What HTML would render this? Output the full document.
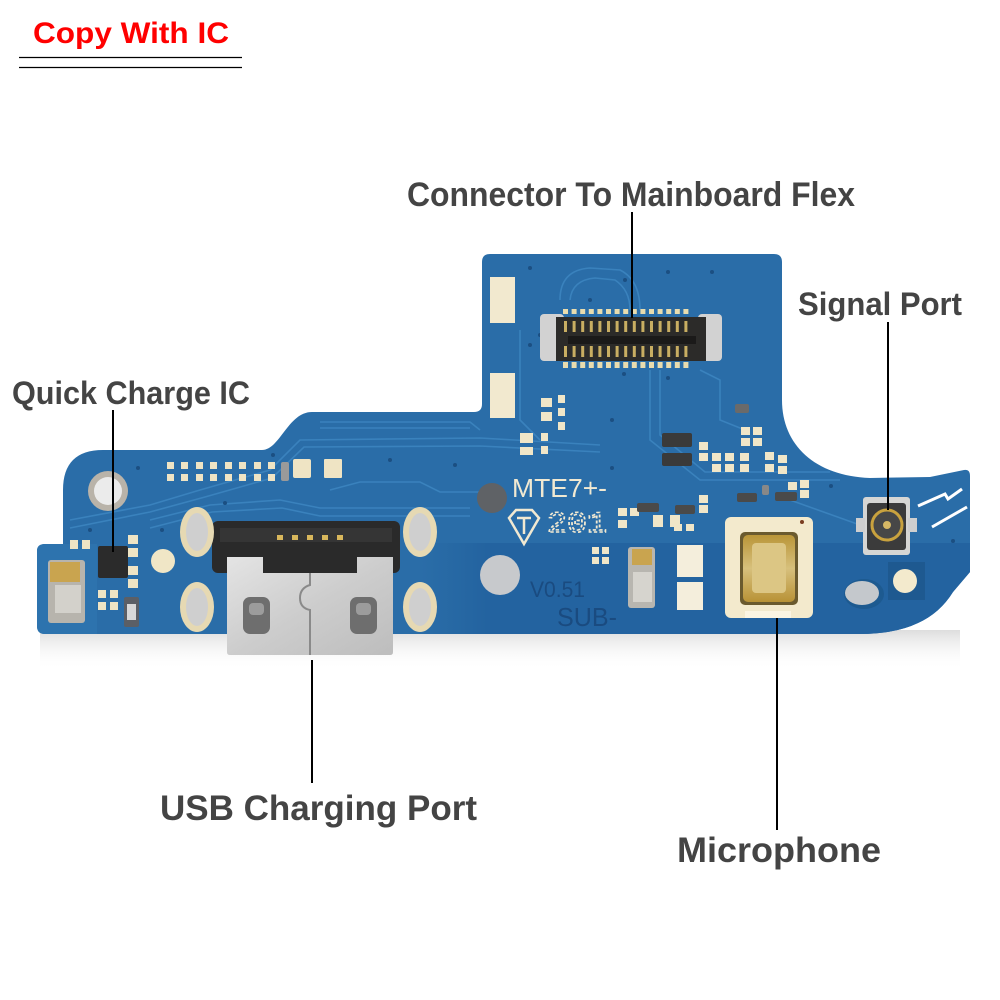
<!DOCTYPE html>
<html>
<head>
<meta charset="utf-8">
<style>
html,body{margin:0;padding:0;background:#fff;}
svg{display:block;}
.lbl{font-family:"Liberation Sans",Arial,sans-serif;font-weight:bold;fill:#444;}
</style>
</head>
<body>
<svg width="1000" height="1000" viewBox="0 0 1000 1000" xmlns="http://www.w3.org/2000/svg">
<defs>
  <linearGradient id="shadow" x1="0" y1="0" x2="0" y2="1">
    <stop offset="0" stop-color="#d9d9d9" stop-opacity="0.9"/>
    <stop offset="1" stop-color="#ffffff" stop-opacity="0"/>
  </linearGradient>
  <linearGradient id="band" x1="0" y1="0" x2="1" y2="0">
    <stop offset="0" stop-color="#2465a0" stop-opacity="0"/>
    <stop offset="0.12" stop-color="#2363a0" stop-opacity="1"/>
    <stop offset="1" stop-color="#2363a0" stop-opacity="1"/>
  </linearGradient>
  <linearGradient id="silver" x1="0" y1="0" x2="1" y2="1">
    <stop offset="0" stop-color="#e4e4e4"/>
    <stop offset="0.5" stop-color="#cdcdcd"/>
    <stop offset="1" stop-color="#bdbdbd"/>
  </linearGradient>
  <linearGradient id="gold" x1="0" y1="0" x2="0" y2="1">
    <stop offset="0" stop-color="#b99538"/>
    <stop offset="0.5" stop-color="#d7c07c"/>
    <stop offset="1" stop-color="#b89236"/>
  </linearGradient>
  <clipPath id="boardclip">
    <path d="M 490,254 L 774,254 Q 782,254 782,262 L 782,400 C 782,445 815,476 870,478 L 930,477 L 964,470 Q 970,469 970,476 L 970,572 L 953,592 Q 940,613 918,623 Q 895,634 860,634 L 45,634 Q 37,634 37,626 L 37,551 Q 37,544 45,544 L 63,544 L 63,490 Q 63,450 103,450 L 262,450 C 280,450 288,412 312,412 L 474,412 Q 482,412 482,404 L 482,262 Q 482,254 490,254 Z"/>
  </clipPath>
</defs>

<!-- Header -->
<text x="33" y="43" font-family="Liberation Sans, Arial, sans-serif" font-weight="bold" font-size="30" fill="#ff0000" textLength="196" lengthAdjust="spacingAndGlyphs">Copy With IC</text>
<line x1="19" y1="57.5" x2="242" y2="57.5" stroke="#000" stroke-width="1.3"/>
<line x1="19" y1="67.5" x2="242" y2="67.5" stroke="#000" stroke-width="1.3"/>

<!-- shadow under board -->
<rect x="40" y="630" width="920" height="40" fill="url(#shadow)"/>

<!-- Board -->
<path d="M 490,254 L 774,254 Q 782,254 782,262 L 782,400 C 782,445 815,476 870,478 L 930,477 L 964,470 Q 970,469 970,476 L 970,572 L 953,592 Q 940,613 918,623 Q 895,634 860,634 L 45,634 Q 37,634 37,626 L 37,551 Q 37,544 45,544 L 63,544 L 63,490 Q 63,450 103,450 L 262,450 C 280,450 288,412 312,412 L 474,412 Q 482,412 482,404 L 482,262 Q 482,254 490,254 Z" fill="#2a6da8"/>

<g clip-path="url(#boardclip)">
  <!-- darker lower band -->
  <rect x="420" y="543" width="555" height="100" fill="url(#band)"/>
  <rect x="37" y="544" width="60" height="95" fill="#2d73ae"/>
  <!-- traces -->
  <g fill="none" stroke="#3a82bd" stroke-width="1.6">
    <path d="M 70,520 L 150,505 L 200,490 L 270,470 L 300,440 L 480,438 L 600,445"/>
    <path d="M 70,528 L 150,512 L 205,497 L 272,478 L 304,447 L 480,446 L 600,452"/>
    <path d="M 150,520 L 210,505 L 280,500 L 320,508 L 470,508"/>
    <path d="M 150,528 L 212,512 L 282,508 L 320,516 L 470,516"/>
    <path d="M 320,422 L 470,422 L 480,430"/>
    <path d="M 320,428 L 470,428"/>
    <path d="M 330,490 L 360,482 L 420,482 L 440,492 L 480,492"/>
    <path d="M 560,300 Q 560,270 590,268 L 620,270 Q 640,280 640,310"/>
    <path d="M 570,300 Q 572,280 595,278 L 615,280 Q 630,290 630,310"/>
    <path d="M 650,370 L 650,440 L 700,480 L 840,480"/>
    <path d="M 660,370 L 660,435 L 705,472 L 830,472"/>
    <path d="M 700,370 L 720,380 L 720,420 L 745,430"/>
    <path d="M 520,330 L 520,420 L 540,440"/>
    <path d="M 790,500 L 860,525"/>
  </g>
  <!-- vias -->
  <g fill="#1b4f82">
    <circle cx="530" cy="268" r="2"/><circle cx="668" cy="272" r="2"/><circle cx="712" cy="272" r="2"/>
    <circle cx="590" cy="300" r="2"/><circle cx="625" cy="280" r="2"/><circle cx="530" cy="345" r="2"/>
    <circle cx="540" cy="335" r="2"/><circle cx="624" cy="374" r="2"/><circle cx="668" cy="378" r="2"/>
    <circle cx="138" cy="468" r="2"/><circle cx="308" cy="470" r="2"/><circle cx="273" cy="455" r="2"/>
    <circle cx="390" cy="460" r="2"/><circle cx="455" cy="465" r="2"/><circle cx="225" cy="503" r="2"/>
    <circle cx="162" cy="530" r="2"/><circle cx="90" cy="530" r="2"/><circle cx="612" cy="468" r="2"/>
    <circle cx="831" cy="486" r="2"/><circle cx="953" cy="541" r="2"/><circle cx="612" cy="420" r="2"/>
  </g>
</g>

<!-- Holes -->
<circle cx="108" cy="491" r="20" fill="#b9b3a9"/>
<circle cx="108" cy="491" r="14" fill="#ebebeb"/>
<circle cx="492" cy="498" r="15" fill="#5f6266"/>
<circle cx="500" cy="575" r="20" fill="#c7c9cc"/>
<ellipse cx="864" cy="594" rx="20" ry="15" fill="#1d5a90"/>
<ellipse cx="862" cy="593" rx="17" ry="12" fill="#c4c8cc"/>

<!-- Tab pads -->
<rect x="490" y="277" width="25" height="46" fill="#f2e9cf"/>
<rect x="490" y="373" width="25" height="45" fill="#f2e9cf"/>

<!-- Mainboard flex connector -->
<rect x="540" y="314" width="24" height="47" rx="4" fill="#d2d2d2"/>
<rect x="698" y="314" width="24" height="47" rx="4" fill="#d2d2d2"/>
<rect x="556" y="317" width="150" height="44" fill="#2c2b29"/>
<rect x="568" y="336" width="128" height="8" fill="#1b1a19"/>
<g fill="#e9dcae">
  <rect x="563" y="309" width="5" height="5"/><rect x="571.6" y="309" width="5" height="5"/><rect x="580.2" y="309" width="5" height="5"/><rect x="588.8" y="309" width="5" height="5"/><rect x="597.4" y="309" width="5" height="5"/><rect x="606" y="309" width="5" height="5"/><rect x="614.6" y="309" width="5" height="5"/><rect x="623.2" y="309" width="5" height="5"/><rect x="631.8" y="309" width="5" height="5"/><rect x="640.4" y="309" width="5" height="5"/><rect x="649" y="309" width="5" height="5"/><rect x="657.6" y="309" width="5" height="5"/><rect x="666.2" y="309" width="5" height="5"/><rect x="674.8" y="309" width="5" height="5"/><rect x="683.4" y="309" width="5" height="5"/>
  <rect x="563" y="362" width="5" height="6"/><rect x="571.6" y="362" width="5" height="6"/><rect x="580.2" y="362" width="5" height="6"/><rect x="588.8" y="362" width="5" height="6"/><rect x="597.4" y="362" width="5" height="6"/><rect x="606" y="362" width="5" height="6"/><rect x="614.6" y="362" width="5" height="6"/><rect x="623.2" y="362" width="5" height="6"/><rect x="631.8" y="362" width="5" height="6"/><rect x="640.4" y="362" width="5" height="6"/><rect x="649" y="362" width="5" height="6"/><rect x="657.6" y="362" width="5" height="6"/><rect x="666.2" y="362" width="5" height="6"/><rect x="674.8" y="362" width="5" height="6"/><rect x="683.4" y="362" width="5" height="6"/>
</g>
<g fill="#c9ae62">
  <rect x="564" y="321" width="3" height="11"/><rect x="572.6" y="321" width="3" height="11"/><rect x="581.2" y="321" width="3" height="11"/><rect x="589.8" y="321" width="3" height="11"/><rect x="598.4" y="321" width="3" height="11"/><rect x="607" y="321" width="3" height="11"/><rect x="615.6" y="321" width="3" height="11"/><rect x="624.2" y="321" width="3" height="11"/><rect x="632.8" y="321" width="3" height="11"/><rect x="641.4" y="321" width="3" height="11"/><rect x="650" y="321" width="3" height="11"/><rect x="658.6" y="321" width="3" height="11"/><rect x="667.2" y="321" width="3" height="11"/><rect x="675.8" y="321" width="3" height="11"/><rect x="684.4" y="321" width="3" height="11"/>
  <rect x="564" y="346" width="3" height="11"/><rect x="572.6" y="346" width="3" height="11"/><rect x="581.2" y="346" width="3" height="11"/><rect x="589.8" y="346" width="3" height="11"/><rect x="598.4" y="346" width="3" height="11"/><rect x="607" y="346" width="3" height="11"/><rect x="615.6" y="346" width="3" height="11"/><rect x="624.2" y="346" width="3" height="11"/><rect x="632.8" y="346" width="3" height="11"/><rect x="641.4" y="346" width="3" height="11"/><rect x="650" y="346" width="3" height="11"/><rect x="658.6" y="346" width="3" height="11"/><rect x="667.2" y="346" width="3" height="11"/><rect x="675.8" y="346" width="3" height="11"/><rect x="684.4" y="346" width="3" height="11"/>
</g>

<!-- small pads around top middle -->
<g fill="#f0e6c8">
  <rect x="541" y="398" width="11" height="9"/><rect x="541" y="412" width="11" height="9"/>
  <rect x="558" y="395" width="7" height="8"/><rect x="558" y="408" width="7" height="8"/><rect x="558" y="422" width="7" height="8"/>
  <rect x="520" y="433" width="13" height="10"/><rect x="541" y="433" width="7" height="8"/><rect x="541" y="446" width="7" height="8"/><rect x="520" y="447" width="13" height="8"/>
  <rect x="741" y="427" width="9" height="8"/><rect x="753" y="427" width="9" height="8"/><rect x="741" y="438" width="9" height="8"/><rect x="753" y="438" width="9" height="8"/>
  <rect x="699" y="442" width="9" height="8"/><rect x="699" y="453" width="9" height="8"/><rect x="712" y="453" width="9" height="8"/><rect x="725" y="453" width="9" height="8"/><rect x="712" y="464" width="9" height="8"/><rect x="725" y="464" width="9" height="8"/><rect x="740" y="453" width="9" height="8"/><rect x="740" y="464" width="9" height="8"/>
  <rect x="765" y="452" width="9" height="8"/><rect x="778" y="455" width="9" height="8"/><rect x="765" y="464" width="9" height="8"/><rect x="778" y="466" width="9" height="8"/>
  <rect x="699" y="495" width="9" height="8"/><rect x="699" y="505" width="9" height="8"/><rect x="788" y="482" width="9" height="8"/><rect x="800" y="490" width="9" height="8"/><rect x="800" y="480" width="9" height="8"/>
  <rect x="618" y="508" width="9" height="8"/><rect x="630" y="508" width="9" height="8"/><rect x="618" y="520" width="9" height="8"/><rect x="653" y="515" width="10" height="12"/><rect x="670" y="515" width="10" height="12"/>
  <rect x="674" y="524" width="8" height="7"/><rect x="686" y="524" width="8" height="7"/>
  <rect x="592" y="547" width="7" height="7"/><rect x="602" y="547" width="7" height="7"/><rect x="592" y="557" width="7" height="7"/><rect x="602" y="557" width="7" height="7"/>
</g>
<!-- black SMD parts -->
<rect x="662" y="433" width="30" height="14" rx="2" fill="#3a3a3a"/>
<rect x="662" y="453" width="30" height="13" rx="2" fill="#3a3a3a"/>
<rect x="735" y="404" width="14" height="9" rx="2" fill="#6a6a6a"/>
<rect x="637" y="503" width="22" height="9" rx="2" fill="#4a4a4a"/>
<rect x="675" y="505" width="20" height="9" rx="2" fill="#4a4a4a"/>
<rect x="737" y="493" width="20" height="9" rx="2" fill="#4a4a4a"/>
<rect x="775" y="492" width="22" height="9" rx="2" fill="#4a4a4a"/>
<rect x="762" y="485" width="7" height="10" rx="2" fill="#888"/>

<!-- silkscreen text -->
<text x="512" y="497" font-family="Liberation Sans, Arial, sans-serif" font-size="26" fill="#f1e9d2" textLength="95" lengthAdjust="spacingAndGlyphs">MTE7+-</text>
<path d="M 509,518 L 516,510 L 532,510 L 539,518 L 524,544 Z" fill="none" stroke="#f1e9d2" stroke-width="2.5"/>
<path d="M 517,518 L 531,518 M 524,518 L 524,534" fill="none" stroke="#f1e9d2" stroke-width="2.5"/>
<text x="547" y="532" font-family="Liberation Mono, monospace" font-size="30" fill="none" stroke="#f1e9d2" stroke-width="1.6" stroke-dasharray="3 2" textLength="60" lengthAdjust="spacingAndGlyphs">201</text>
<text x="530" y="597" font-family="Liberation Sans, Arial, sans-serif" font-size="22" fill="#1a4b80" textLength="55" lengthAdjust="spacingAndGlyphs">V0.51</text>
<text x="557" y="626" font-family="Liberation Sans, Arial, sans-serif" font-size="26" fill="#1a4b80" textLength="60" lengthAdjust="spacingAndGlyphs">SUB-</text>

<!-- Left area pads -->
<g fill="#efe4c4">
  <rect x="167" y="462" width="7" height="7"/><rect x="181" y="462" width="7" height="7"/><rect x="196" y="462" width="7" height="7"/><rect x="210" y="462" width="7" height="7"/><rect x="225" y="462" width="7" height="7"/><rect x="239" y="462" width="7" height="7"/><rect x="254" y="462" width="7" height="7"/><rect x="268" y="462" width="7" height="7"/>
  <rect x="167" y="474" width="7" height="7"/><rect x="181" y="474" width="7" height="7"/><rect x="196" y="474" width="7" height="7"/><rect x="210" y="474" width="7" height="7"/><rect x="225" y="474" width="7" height="7"/><rect x="239" y="474" width="7" height="7"/><rect x="254" y="474" width="7" height="7"/><rect x="268" y="474" width="7" height="7"/>
  <rect x="293" y="459" width="18" height="19" rx="2"/><rect x="324" y="459" width="18" height="19" rx="1"/>
  <rect x="128" y="535" width="10" height="9"/><rect x="128" y="548" width="10" height="9"/><rect x="128" y="566" width="10" height="9"/><rect x="128" y="579" width="10" height="9"/>
  <rect x="70" y="540" width="8" height="9"/><rect x="82" y="540" width="8" height="9"/>
  <rect x="98" y="590" width="8" height="8"/><rect x="110" y="590" width="8" height="8"/><rect x="98" y="602" width="8" height="8"/><rect x="110" y="602" width="8" height="8"/>
</g>
<rect x="281" y="462" width="8" height="19" rx="2" fill="#9a9a9a"/>
<circle cx="163" cy="561" r="12" fill="#f0e6c6"/>
<rect x="124" y="597" width="15" height="30" rx="2" fill="#5b5f66"/>
<rect x="127" y="604" width="9" height="16" fill="#d8d8d8"/>

<!-- Quick charge IC -->
<rect x="98" y="546" width="30" height="32" rx="2" fill="#2b2b2b"/>

<!-- left gold clip -->
<rect x="48" y="560" width="37" height="63" rx="3" fill="#b7b4ad"/>
<rect x="50" y="562" width="30" height="20" fill="#c9a44f"/>
<rect x="55" y="585" width="26" height="28" fill="#d3d1cb"/>

<!-- USB connector -->
<rect x="212" y="521" width="188" height="52" rx="6" fill="#2a2a2a"/>
<rect x="220" y="528" width="172" height="14" fill="#353535"/>
<g fill="#d8b75c">
  <rect x="277" y="535" width="6" height="5"/><rect x="292" y="535" width="6" height="5"/><rect x="307" y="535" width="6" height="5"/><rect x="322" y="535" width="6" height="5"/><rect x="337" y="535" width="6" height="5"/>
</g>
<path d="M 227,557 L 263,557 L 263,573 L 357,573 L 357,557 L 393,557 L 393,652 Q 393,655 390,655 L 230,655 Q 227,655 227,652 Z" fill="url(#silver)"/>
<path d="M 310,573 L 310,585 Q 300,588 300,598 Q 300,608 310,610 L 310,655" fill="none" stroke="#8a8a8a" stroke-width="2"/>
<rect x="243" y="597" width="27" height="37" rx="7" fill="#6e6e6e"/>
<rect x="249" y="603" width="15" height="12" rx="4" fill="#9c9c9c"/>
<rect x="350" y="597" width="27" height="37" rx="7" fill="#6e6e6e"/>
<rect x="356" y="603" width="15" height="12" rx="4" fill="#9c9c9c"/>

<!-- USB oval mounting pads -->
<g>
  <ellipse cx="197" cy="532" rx="17" ry="25" fill="#e6d9b3"/>
  <ellipse cx="197" cy="532" rx="11" ry="19" fill="#cfcfcf"/>
  <ellipse cx="197" cy="607" rx="17" ry="25" fill="#e6d9b3"/>
  <ellipse cx="197" cy="607" rx="11" ry="19" fill="#cfcfcf"/>
  <ellipse cx="420" cy="532" rx="17" ry="25" fill="#e6d9b3"/>
  <ellipse cx="420" cy="532" rx="11" ry="19" fill="#cfcfcf"/>
  <ellipse cx="420" cy="607" rx="17" ry="25" fill="#e6d9b3"/>
  <ellipse cx="420" cy="607" rx="11" ry="19" fill="#cfcfcf"/>
</g>

<!-- small clip near middle -->
<rect x="628" y="547" width="27" height="61" rx="3" fill="#b8b6b0"/>
<rect x="632" y="549" width="20" height="16" fill="#c9a44f"/>
<rect x="633" y="572" width="19" height="30" fill="#d6d4ce"/>

<!-- white pads -->
<rect x="677" y="545" width="26" height="32" fill="#f4eedc"/>
<rect x="677" y="582" width="26" height="28" fill="#f4eedc"/>

<!-- Microphone -->
<rect x="725" y="517" width="88" height="101" rx="6" fill="#f3eacd"/>
<rect x="740" y="532" width="58" height="73" rx="5" fill="#6a5a2e"/>
<rect x="743" y="535" width="52" height="67" rx="5" fill="url(#gold)"/>
<rect x="752" y="543" width="34" height="50" rx="4" fill="#dcc684"/>
<rect x="745" y="611" width="46" height="7" fill="#fbf5e3"/>
<circle cx="802" cy="522" r="2" fill="#7a3d20"/>

<!-- Signal port -->
<rect x="863" y="497" width="47" height="58" rx="3" fill="#d6d6d4"/>
<rect x="867" y="503" width="39" height="47" rx="3" fill="#3b3b3b"/>
<rect x="856" y="518" width="9" height="14" fill="#cfcfcf"/>
<rect x="908" y="518" width="9" height="14" fill="#cfcfcf"/>
<circle cx="887" cy="525" r="15" fill="#474747" stroke="#c9a23e" stroke-width="3"/>
<circle cx="887" cy="525" r="4" fill="#d6b865"/>

<!-- right pad -->
<rect x="888" y="562" width="37" height="38" fill="#1e5990"/>
<circle cx="905" cy="581" r="12" fill="#f3eacd"/>

<!-- antenna marks -->
<path d="M 918,506 L 945,494 L 948,499 L 962,489" fill="none" stroke="#ffffff" stroke-width="3"/>
<path d="M 932,527 L 967,507" fill="none" stroke="#ffffff" stroke-width="3"/>

<!-- Leader lines -->
<g stroke="#000" stroke-width="2">
  <line x1="632" y1="212" x2="632" y2="318"/>
  <line x1="888" y1="322" x2="888" y2="510"/>
  <line x1="113" y1="410" x2="113" y2="552"/>
  <line x1="312" y1="660" x2="312" y2="783"/>
  <line x1="777" y1="618" x2="777" y2="830"/>
</g>

<!-- Labels -->
<text class="lbl" x="407" y="206" font-size="34" textLength="448" lengthAdjust="spacingAndGlyphs">Connector To Mainboard Flex</text>
<text class="lbl" x="798" y="315" font-size="32" textLength="164" lengthAdjust="spacingAndGlyphs">Signal Port</text>
<text class="lbl" x="12" y="404" font-size="32" textLength="238" lengthAdjust="spacingAndGlyphs">Quick Charge IC</text>
<text class="lbl" x="160" y="820" font-size="35" textLength="317" lengthAdjust="spacingAndGlyphs">USB Charging Port</text>
<text class="lbl" x="677" y="862" font-size="35" textLength="204" lengthAdjust="spacingAndGlyphs">Microphone</text>
</svg>
</body>
</html>
